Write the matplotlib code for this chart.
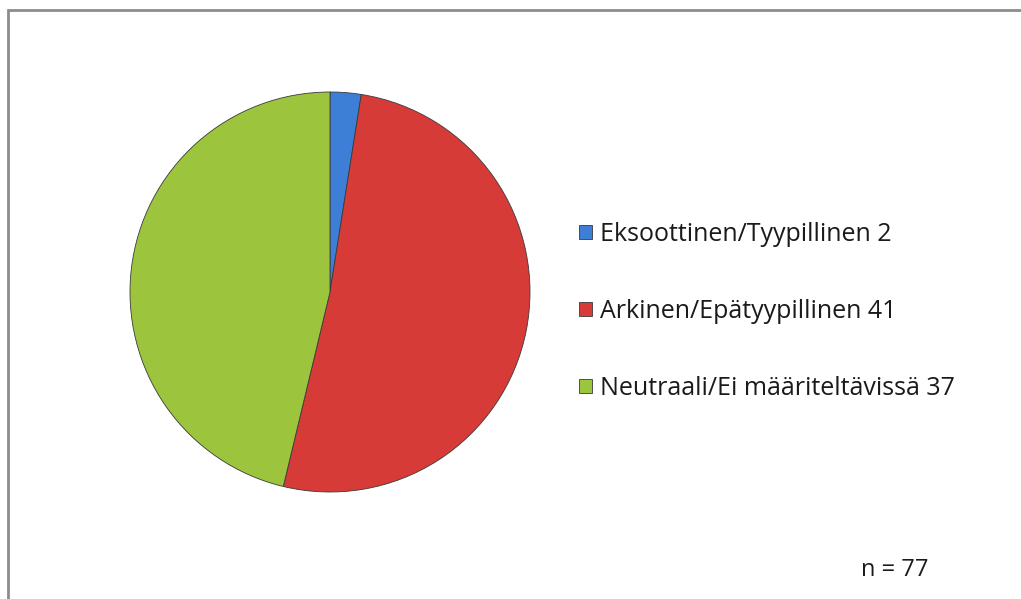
import matplotlib.pyplot as plt
from matplotlib.patches import Rectangle

# data
labels = ['Eksoottinen/Tyypillinen', 'Arkinen/Epätyypillinen', 'Neutraali/Ei määriteltävissä']
counts = [2, 41, 37]
colors = ['#3d7fd6', '#d63b38', '#9cc43d']
n_total = 77

plt.rcParams['font.family'] = ['Open Sans', 'DejaVu Sans']

fig = plt.figure(figsize=(10.21, 5.99), dpi=100)

# outer frame (left and top visible, rest cut off)
fig.patches.append(Rectangle((8 / 1021, -0.05), 1.1, 1 - 10 / 599 + 0.05,
                             transform=fig.transFigure, fill=False,
                             edgecolor='#8c8c8c', linewidth=2))

ax = fig.add_axes([130 / 1021, (599 - 492) / 599, 400 / 1021, 400 / 599])
wedges, _ = ax.pie(counts, colors=colors, startangle=90, counterclock=False,
                   radius=1.0,
                   wedgeprops=dict(edgecolor='#3a3a3a', linewidth=0.6))
ax.set_xlim(-1, 1)
ax.set_ylim(-1, 1)
ax.set_aspect('auto')

leg_labels = [f'{l} {c}' for l, c in zip(labels, counts)]
leg = fig.legend(wedges, leg_labels, loc='upper left',
                 bbox_to_anchor=(569 / 1021, 1 - 212 / 599),
                 frameon=False, fontsize=18, handlelength=0.5, handleheight=0.5,
                 handletextpad=0.35, labelspacing=2.08, borderaxespad=0)
for t in leg.get_texts():
    t.set_color('#1a1a1a')

fig.text(861 / 1021, 1 - 570 / 599, f'n = {n_total}', fontsize=17,
         color='#1a1a1a', va='center', ha='left')

fig.savefig('out.png', dpi=100)
